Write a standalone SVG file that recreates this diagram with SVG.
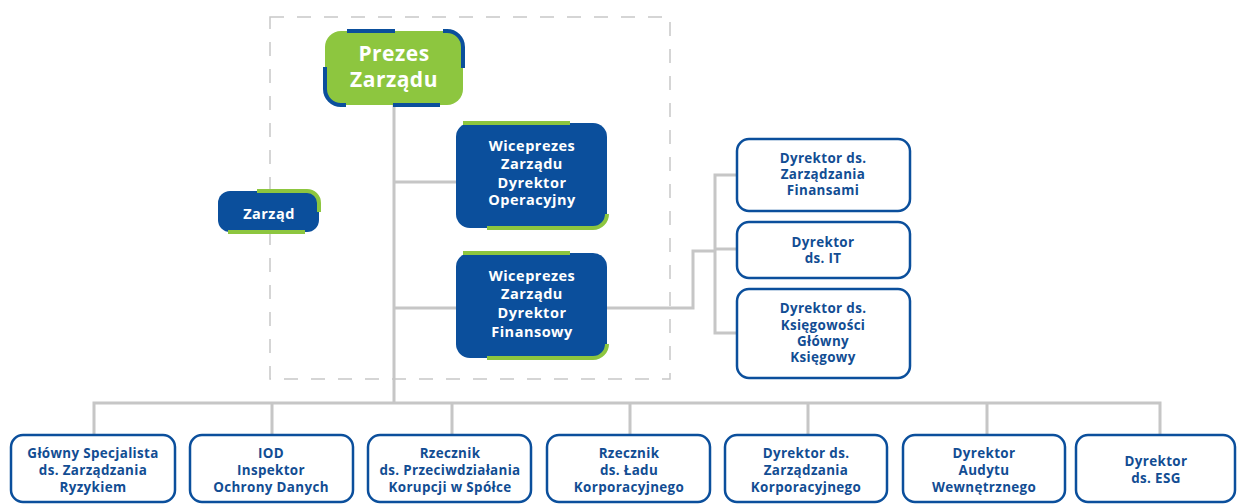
<svg xmlns="http://www.w3.org/2000/svg" width="1237" height="504" viewBox="0 0 1237 504">
<style>
.t{font-family:"Open Sans","Liberation Sans",sans-serif;font-weight:700;text-anchor:middle}
.w{fill:#ffffff;letter-spacing:0.5px}
.b{fill:#124d93;font-size:13.4px;letter-spacing:0.35px}
.blue{fill:#0b4f9c}
.box{fill:#ffffff;stroke:#0b4f9c;stroke-width:2.5}
.gacc{fill:none;stroke:#8dc63f;stroke-width:4}
.bacc{fill:none;stroke:#0b4f9c;stroke-width:4}
.ln{fill:none;stroke:#c6c6c6;stroke-width:3}
</style>
<rect x="270" y="17" width="400" height="362" fill="none" stroke="#c8c8c8" stroke-width="1.5" stroke-dasharray="14 13"/>
<g id="connectors">
<path class="ln" d="M394,105 V403"/>
<path class="ln" d="M394,182 H456"/>
<path class="ln" d="M394,308 H456"/>
<path class="ln" d="M607,308 H693 V251 H715"/>
<path class="ln" d="M737,175 H715 V333 H737"/>
<path class="ln" d="M715,249 H737"/>
<path class="ln" d="M94,434 V403 H1160 V434"/>
<path class="ln" d="M272,403 V434 M452,403 V434 M630,403 V434 M808,403 V434 M987,403 V434"/>
</g>
<g id="prezes">
<rect x="325" y="31" width="138" height="74" rx="16" fill="#8dc63f"/>
<path class="bacc" d="M347,31 H395 M443,31 H447 A16 16 0 0 1 463,47 V68 M325,67 V89 A16 16 0 0 0 341,105 H346 M393,105 H440"/>
<text class="t w" x="394" y="61" font-size="21">Prezes</text>
<text class="t w" x="394" y="87" font-size="21">Zarządu</text>
</g>
<g id="zarzad">
<rect x="218" y="191" width="101" height="41" rx="12" class="blue"/>
<path class="gacc" d="M257,191 H307 A12 12 0 0 1 319,203 V212 M228,232 H305"/>
<text class="t w" x="269" y="219" font-size="14.5">Zarząd</text>
</g>
<g id="wice-operacyjny">
<rect x="456" y="123" width="151" height="105" rx="14" class="blue"/>
<path class="gacc" d="M463,123 H570 M487,228 H593 A14 14 0 0 0 607,214"/>
<text class="t w" font-size="14.5"><tspan x="532" y="151">Wiceprezes</tspan><tspan x="532" y="169">Zarządu</tspan><tspan x="532" y="188">Dyrektor</tspan><tspan x="532" y="205">Operacyjny</tspan></text>
</g>
<g id="wice-finansowy">
<rect x="456" y="253" width="151" height="105" rx="14" class="blue"/>
<path class="gacc" d="M463,253 H570 M487,358 H593 A14 14 0 0 0 607,344"/>
<text class="t w" font-size="14.5"><tspan x="532" y="281">Wiceprezes</tspan><tspan x="532" y="299">Zarządu</tspan><tspan x="532" y="318">Dyrektor</tspan><tspan x="532" y="337">Finansowy</tspan></text>
</g>
<g id="dyr-finansami">
<rect x="737" y="139" width="173" height="72" rx="12" class="box"/>
<text class="t b"><tspan x="823" y="163">Dyrektor ds.</tspan><tspan x="823" y="179">Zarządzania</tspan><tspan x="823" y="195">Finansami</tspan></text>
</g>
<g id="dyr-it">
<rect x="737" y="222" width="173" height="56" rx="12" class="box"/>
<text class="t b"><tspan x="823" y="247">Dyrektor</tspan><tspan x="823" y="263">ds. IT</tspan></text>
</g>
<g id="dyr-ksiegowosci">
<rect x="737" y="289" width="173" height="89" rx="12" class="box"/>
<text class="t b"><tspan x="823" y="313">Dyrektor ds.</tspan><tspan x="823" y="330">Księgowości</tspan><tspan x="823" y="346">Główny</tspan><tspan x="823" y="362">Księgowy</tspan></text>
</g>
<g id="ryzyko">
<rect x="11" y="435" width="164" height="67" rx="12" class="box"/>
<text class="t b"><tspan x="93" y="458">Główny Specjalista</tspan><tspan x="93" y="475">ds. Zarządzania</tspan><tspan x="93" y="492">Ryzykiem</tspan></text>
</g>
<g id="iod">
<rect x="190" y="435" width="163" height="67" rx="12" class="box"/>
<text class="t b"><tspan x="271" y="458">IOD</tspan><tspan x="271" y="475">Inspektor</tspan><tspan x="271" y="492">Ochrony Danych</tspan></text>
</g>
<g id="korupcja">
<rect x="368" y="435" width="163" height="67" rx="12" class="box"/>
<text class="t b"><tspan x="450" y="458">Rzecznik</tspan><tspan x="450" y="475">ds. Przeciwdziałania</tspan><tspan x="450" y="492">Korupcji w Spółce</tspan></text>
</g>
<g id="lad">
<rect x="547" y="435" width="163" height="67" rx="12" class="box"/>
<text class="t b"><tspan x="629" y="458">Rzecznik</tspan><tspan x="629" y="475">ds. Ładu</tspan><tspan x="629" y="492">Korporacyjnego</tspan></text>
</g>
<g id="zarz-korp">
<rect x="725" y="435" width="162" height="67" rx="12" class="box"/>
<text class="t b"><tspan x="806" y="458">Dyrektor ds.</tspan><tspan x="806" y="475">Zarządzania</tspan><tspan x="806" y="492">Korporacyjnego</tspan></text>
</g>
<g id="audyt">
<rect x="903" y="435" width="162" height="67" rx="12" class="box"/>
<text class="t b"><tspan x="984" y="458">Dyrektor</tspan><tspan x="984" y="475">Audytu</tspan><tspan x="984" y="492">Wewnętrznego</tspan></text>
</g>
<g id="esg">
<rect x="1076" y="435" width="159" height="67" rx="12" class="box"/>
<text class="t b"><tspan x="1156" y="466">Dyrektor</tspan><tspan x="1156" y="483">ds. ESG</tspan></text>
</g>
</svg>
